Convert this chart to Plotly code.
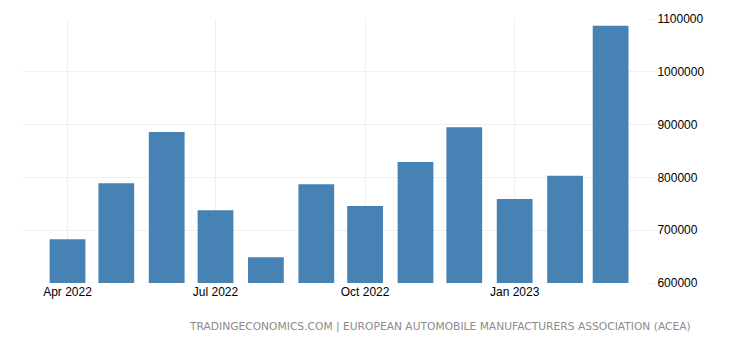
import plotly.graph_objects as go

months = ["2022-04-01", "2022-05-01", "2022-06-01", "2022-07-01", "2022-08-01", "2022-09-01",
          "2022-10-01", "2022-11-01", "2022-12-01", "2023-01-01", "2023-02-01", "2023-03-01"]
registrations = [683000, 789000, 886000, 738000, 649000, 787000,
                 746000, 829000, 895000, 759000, 803000, 1087000]
tick_vals = ["2022-04-01", "2022-07-01", "2022-10-01", "2023-01-01"]
tick_text = ["Apr 2022", "Jul 2022", "Oct 2022", "Jan 2023"]
y_ticks = [600000, 700000, 800000, 900000, 1000000, 1100000]
source = "TRADINGECONOMICS.COM | EUROPEAN AUTOMOBILE MANUFACTURERS ASSOCIATION (ACEA)"

DAY = 86400000

fig = go.Figure(go.Bar(
    x=months, y=registrations,
    marker=dict(color="#4682B4", line=dict(width=0)),
    width=[22 * DAY] * len(months),
))

fig.update_layout(
    width=740, height=345,
    margin=dict(l=22, r=92, t=19, b=62),
    paper_bgcolor="white", plot_bgcolor="white",
    showlegend=False,
    font=dict(family="Liberation Sans, Arial", size=12, color="#000"),
    xaxis=dict(
        type="date",
        range=["2022-03-04", "2023-03-24"],
        tickvals=tick_vals, ticktext=tick_text,
        showgrid=True, gridcolor="#f0f0f0", gridwidth=1,
        ticks="", showline=False, zeroline=False,
        tickfont=dict(size=12, color="#000"),
    ),
    yaxis=dict(
        side="right",
        range=[600000, 1100000],
        tickvals=y_ticks, ticktext=[str(v) for v in y_ticks],
        showgrid=True, gridcolor="#f0f0f0", gridwidth=1,
        ticks="outside", ticklen=6, tickcolor="#f0f0f0",
        showline=False, zeroline=False,
        tickfont=dict(size=12, color="#000"),
    ),
    annotations=[dict(
        text=source, xref="paper", yref="paper",
        x=(693 - 22) / 626, y=-(326 - 283) / 264,
        xanchor="right", yanchor="middle", showarrow=False,
        font=dict(size=10.7, color="#8c8c8c", family="DejaVu Sans"),
    )],
)

fig.write_html("out.html")
